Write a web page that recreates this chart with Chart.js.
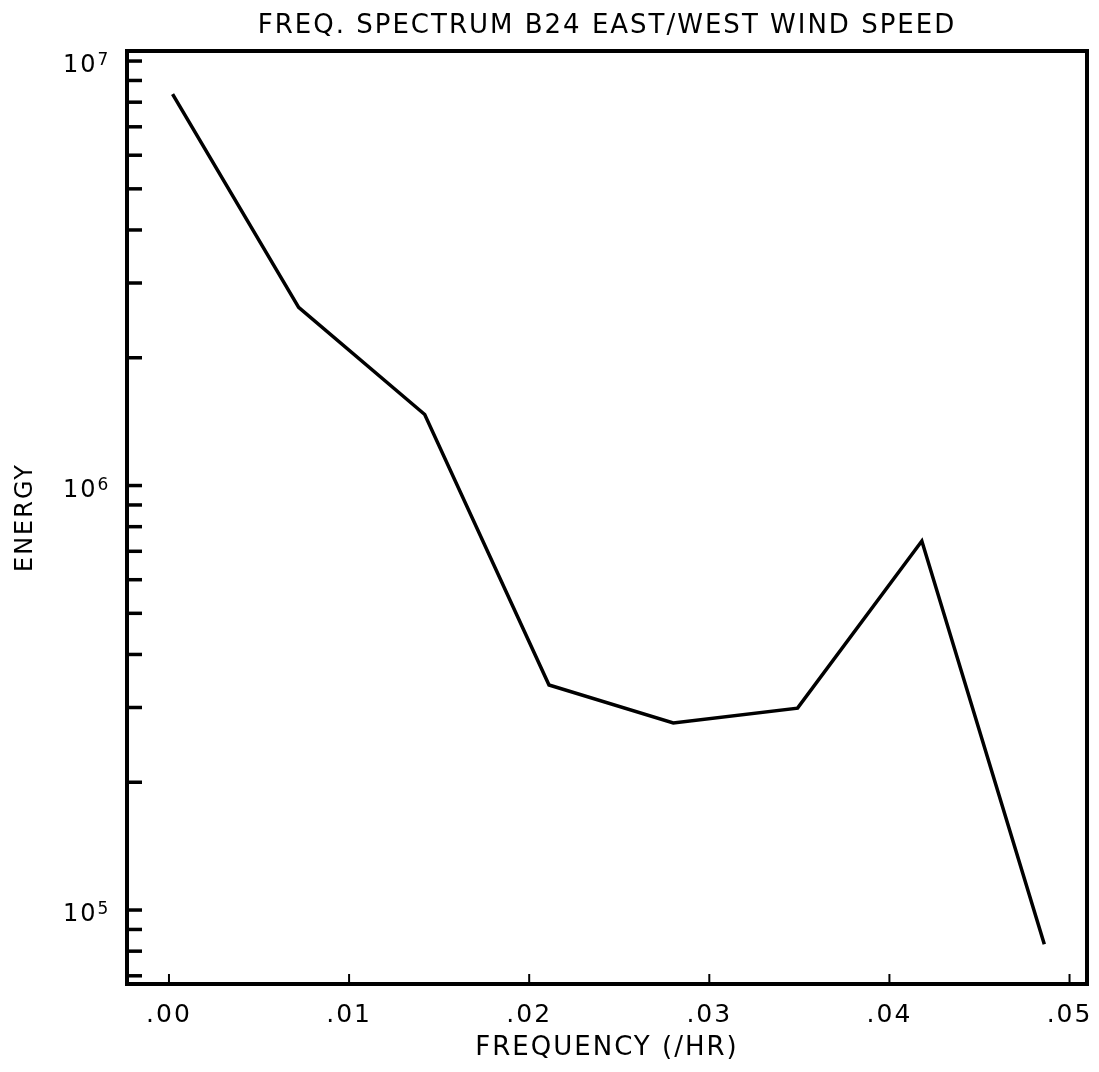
<!DOCTYPE html>
<html>
<head>
<meta charset="utf-8">
<script src="https://cdn.jsdelivr.net/npm/chart.js@4.4.1/dist/chart.umd.min.js"></script>
<style>
  html, body { margin: 0; padding: 0; background: #fff; }
  #wrap { width: 1099px; height: 1072px; }
</style>
</head>
<body>
<div id="wrap"><canvas id="c" width="1099" height="1072"></canvas></div>
<script>
// Spectrum estimates: frequency (cycles per hour) and energy
const frequency = [0.0002, 0.0072, 0.0142, 0.0211, 0.0280, 0.0349, 0.0418, 0.0486];
const energy    = [8.36e6, 2.63e6, 1.47e6, 3.39e5, 2.76e5, 2.99e5, 7.40e5, 8.31e4];

// Axis ticks and labels
const xTicks      = [0, 0.01, 0.02, 0.03, 0.04, 0.05];
const xTickLabels = ['.00', '.01', '.02', '.03', '.04', '.05'];
const yDecades         = [1e5, 1e6, 1e7];
const yDecadeBase      = '10';
const yDecadeExponents = ['5', '6', '7'];
const xRange = [-0.00233, 0.05097];
const yRange = [66950, 1.056e7];

const chartTitle = 'FREQ. SPECTRUM B24 EAST/WEST WIND SPEED';
const xTitle = 'FREQUENCY (/HR)';
const yTitle = 'ENERGY';

const FONT = '"DejaVu Sans", "Liberation Sans", sans-serif';
const SPACING = '2px';

// Frame, inward tick marks, decade labels and the heading
const framePlugin = {
  id: 'frame',
  beforeDraw(chart) {
    chart.ctx.letterSpacing = SPACING;
  },
  afterDatasetsDraw(chart) {
    const { ctx, chartArea: a, scales } = chart;
    ctx.save();
    ctx.strokeStyle = '#000';
    ctx.lineCap = 'butt';
    // left axis ticks (every 1..9 × 10^n)
    ctx.lineWidth = 3.5;
    scales.y.ticks.forEach(t => {
      const py = scales.y.getPixelForValue(t.value);
      ctx.beginPath();
      ctx.moveTo(a.left, py);
      ctx.lineTo(a.left + 15, py);
      ctx.stroke();
    });
    // bottom axis ticks
    ctx.lineWidth = 2;
    scales.x.ticks.forEach(t => {
      const px = scales.x.getPixelForValue(t.value);
      ctx.beginPath();
      ctx.moveTo(px, a.bottom);
      ctx.lineTo(px, a.bottom - 10);
      ctx.stroke();
    });
    // box around the plot
    ctx.lineWidth = 4;
    ctx.strokeRect(a.left, a.top, a.right - a.left, a.bottom - a.top);
    ctx.restore();
  },
  afterDraw(chart) {
    const { ctx, chartArea: a, scales } = chart;
    ctx.save();
    ctx.fillStyle = '#000';
    ctx.letterSpacing = SPACING;
    // heading, centred over the plot
    ctx.font = '26px ' + FONT;
    ctx.textAlign = 'center';
    ctx.textBaseline = 'alphabetic';
    ctx.fillText(chartTitle, (a.left + a.right) / 2, 33);
    // decade labels 10^n with raised exponent
    ctx.textAlign = 'left';
    yDecades.forEach((v, i) => {
      const py = scales.y.getPixelForValue(v);
      ctx.font = '24px ' + FONT;
      ctx.fillText(yDecadeBase, 63, py + 11);
      const w = ctx.measureText(yDecadeBase).width;
      ctx.font = '17px ' + FONT;
      ctx.fillText(yDecadeExponents[i], 63 + w, py + 4);
    });
    ctx.restore();
    ctx.letterSpacing = '0px';
  }
};

new Chart(document.getElementById('c'), {
  type: 'line',
  data: {
    datasets: [{
      data: frequency.map((f, i) => ({ x: f, y: energy[i] })),
      borderColor: '#000',
      borderWidth: 3.5,
      pointRadius: 0,
      tension: 0,
      fill: false
    }]
  },
  options: {
    responsive: false,
    animation: false,
    layout: { padding: { top: 51, right: 12, left: 0, bottom: 0 } },
    plugins: {
      legend: { display: false },
      tooltip: { enabled: false },
      title: { display: false }
    },
    scales: {
      x: {
        type: 'linear',
        min: xRange[0],
        max: xRange[1],
        grid: { display: false, drawTicks: false },
        border: { display: false },
        afterBuildTicks(scale) { scale.ticks = xTicks.map(v => ({ value: v })); },
        afterFit(scale) {
          scale.height = 88;
          scale.paddingLeft = 0;
          scale.paddingRight = 0;
        },
        ticks: {
          autoSkip: false,
          maxRotation: 0,
          padding: 16,
          color: '#000',
          font: { family: FONT, size: 25 },
          callback: v => xTickLabels[xTicks.indexOf(v)]
        },
        title: {
          display: true,
          text: xTitle,
          color: '#000',
          font: { family: FONT, size: 26 },
          padding: { top: 0, bottom: 8 }
        }
      },
      y: {
        type: 'logarithmic',
        min: yRange[0],
        max: yRange[1],
        grid: { display: false, drawTicks: false },
        border: { display: false },
        afterBuildTicks(scale) {
          const t = [];
          for (let e = 4; e <= 7; e++) {
            for (let m = 1; m <= 9; m++) {
              const v = m * Math.pow(10, e);
              if (v >= scale.min && v <= scale.max) t.push({ value: v });
            }
          }
          scale.ticks = t;
        },
        afterFit(scale) {
          scale.width = 127;
          scale.paddingTop = 0;
          scale.paddingBottom = 0;
        },
        ticks: { display: false },
        title: {
          display: true,
          text: yTitle,
          color: '#000',
          font: { family: FONT, size: 24 },
          padding: { top: 11, bottom: 0 }
        }
      }
    }
  },
  plugins: [framePlugin]
});
</script>
</body>
</html>
